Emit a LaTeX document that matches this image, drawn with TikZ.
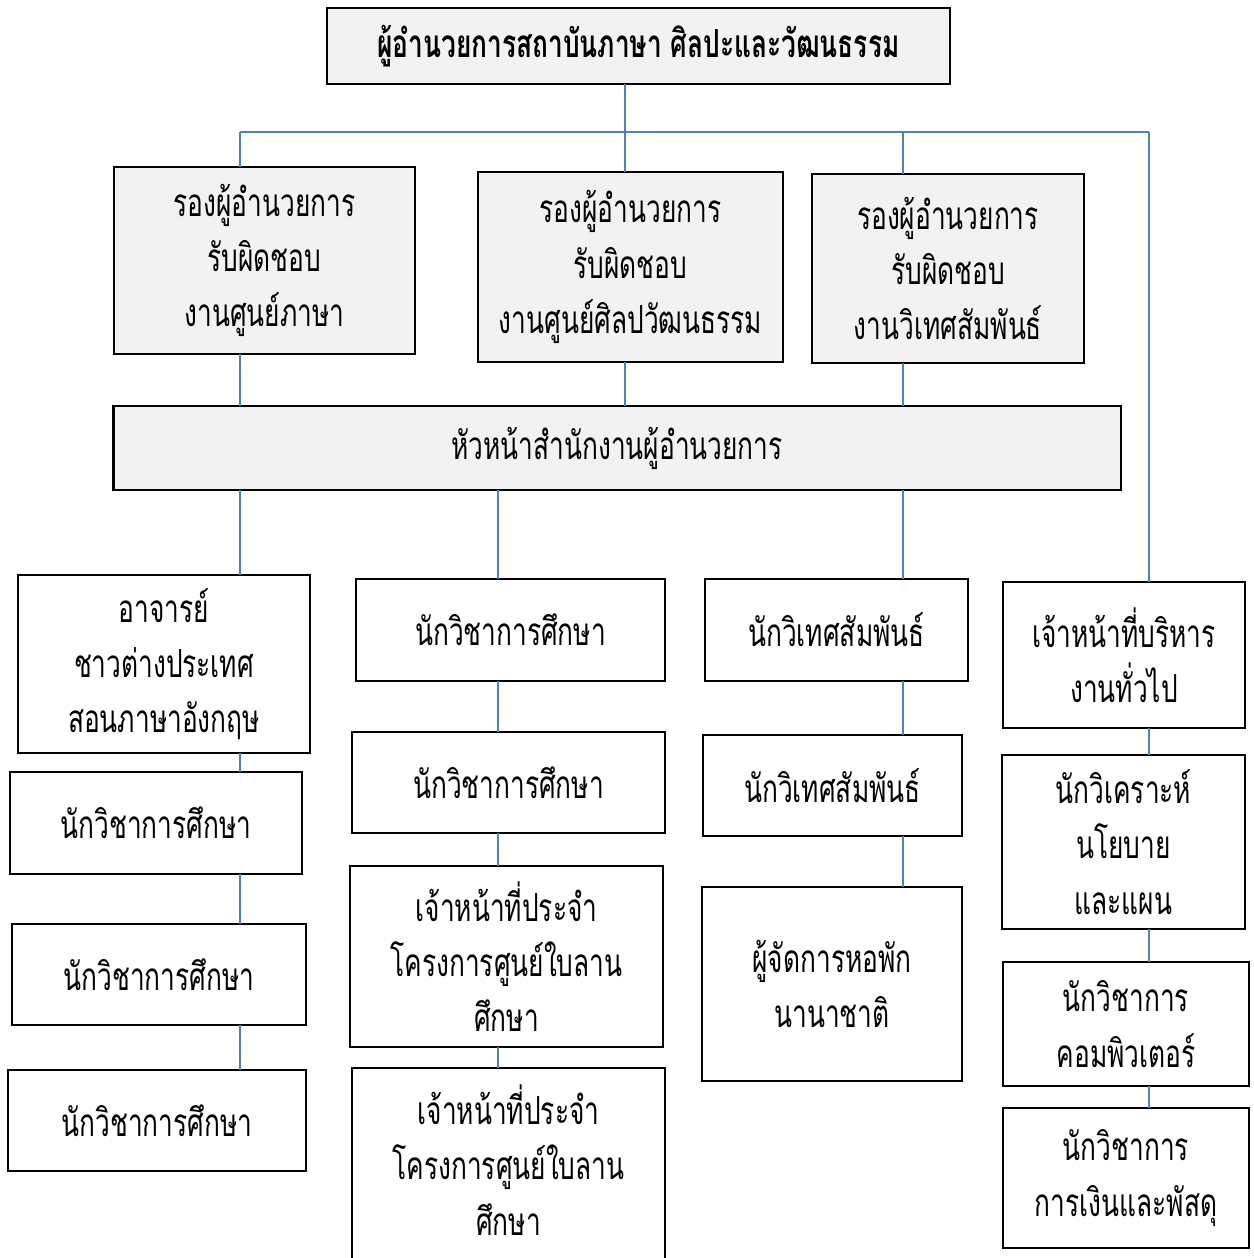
\documentclass[tikz,border=0pt]{standalone}
\usepackage{fontspec}
\newfontfamily\thaifont[Script=Thai,FakeStretch=0.68]{Loma}
\definecolor{linkblue}{HTML}{4F81BD}
\definecolor{boxgray}{HTML}{F2F2F2}
\tikzset{
  box/.style={draw=black, line width=1.6pt, inner sep=0pt, outer sep=0pt, align=center,
    font={\thaifont\fontsize{22}{31.5}\selectfont}},
  graybox/.style={box, fill=boxgray},
  conn/.style={draw=linkblue, line width=1.1pt},
}
\begin{document}
\begin{tikzpicture}[x=0.02cm, y=-0.02cm]
\useasboundingbox (0,0) rectangle (1254,1258);
\clip (0,0) rectangle (1254,1258);
% column x positions
\coordinate (j1) at (240,132);
\coordinate (j2) at (625,132);
\coordinate (j3) at (903,132);
\coordinate (j4) at (1149,132);
\coordinate (k2) at (498,0);

% top
\node[graybox, minimum width=12.46cm, minimum height=1.52cm, font={\thaifont\bfseries\fontsize{22}{31.5}\selectfont}] (top) at (638.5,46) {ผู้อำนวยการสถาบันภาษา ศิลปะและวัฒนธรรม};
% deputies
\node[graybox, minimum width=6.02cm, minimum height=3.74cm] (A) at (264.5,260.5) {รองผู้อำนวยการ\\รับผิดชอบ\\งานศูนย์ภาษา};
\node[graybox, minimum width=6.10cm, minimum height=3.80cm] (B) at (630.5,267) {รองผู้อำนวยการ\\รับผิดชอบ\\งานศูนย์ศิลปวัฒนธรรม};
\node[graybox, minimum width=5.44cm, minimum height=3.78cm] (C) at (948,268.5) {รองผู้อำนวยการ\\รับผิดชอบ\\งานวิเทศสัมพันธ์};
% head
\node[graybox, minimum width=20.16cm, minimum height=1.68cm] (head) at (617,448) {หัวหน้าสำนักงานผู้อำนวยการ};

% column 1
\node[box, minimum width=5.84cm, minimum height=3.56cm] (c1a) at (164,664) {อาจารย์\\ชาวต่างประเทศ\\สอนภาษาอังกฤษ};
\node[box, minimum width=5.84cm, minimum height=2.04cm] (c1b) at (156,823) {นักวิชาการศึกษา};
\node[box, minimum width=5.88cm, minimum height=2.02cm] (c1c) at (159,974.5) {นักวิชาการศึกษา};
\node[box, minimum width=5.96cm, minimum height=2.02cm] (c1d) at (157,1120.5) {นักวิชาการศึกษา};
% column 2
\node[box, minimum width=6.18cm, minimum height=2.04cm] (c2a) at (510.5,630) {นักวิชาการศึกษา};
\node[box, minimum width=6.26cm, minimum height=2.02cm] (c2b) at (508.5,782.5) {นักวิชาการศึกษา};
\node[box, minimum width=6.26cm, minimum height=3.62cm] (c2c) at (506.5,956.5) {เจ้าหน้าที่ประจำ\\โครงการศูนย์ใบลาน\\ศึกษา};
\node[box, minimum width=6.26cm, minimum height=4.40cm, anchor=north] (c2d) at (508.5,1068) {};
\node[box, draw=none, anchor=center] (c2dt) at (508.5,1160) {เจ้าหน้าที่ประจำ\\โครงการศูนย์ใบลาน\\ศึกษา};
% column 3
\node[box, minimum width=5.26cm, minimum height=2.04cm] (c3a) at (836.5,630) {นักวิเทศสัมพันธ์};
\node[box, minimum width=5.18cm, minimum height=2.02cm] (c3b) at (832.5,785.5) {นักวิเทศสัมพันธ์};
\node[box, minimum width=5.20cm, minimum height=3.88cm] (c3c) at (832,984) {ผู้จัดการหอพัก\\นานาชาติ};
% column 4
\node[box, minimum width=4.84cm, minimum height=2.92cm] (c4a) at (1124,655) {เจ้าหน้าที่บริหาร\\งานทั่วไป};
\node[box, minimum width=4.86cm, minimum height=3.48cm] (c4b) at (1123.5,842) {นักวิเคราะห์\\นโยบาย\\และแผน};
\node[box, minimum width=4.92cm, minimum height=2.48cm] (c4c) at (1126,1024) {นักวิชาการ\\คอมพิวเตอร์};
\node[box, minimum width=4.92cm, minimum height=2.80cm] (c4d) at (1126,1178) {นักวิชาการ\\การเงินและพัสดุ};

% connectors
\draw[conn] (top.south -| j2) -- (j2);
\draw[conn] (j1) -- (j4);
\draw[conn] (j1) -- (A.north -| j1);
\draw[conn] (j2) -- (B.north -| j2);
\draw[conn] (j3) -- (C.north -| j3);
\draw[conn] (j4) -- (c4a.north -| j4);
\draw[conn] (A.south -| j1) -- (head.north -| j1);
\draw[conn] (B.south -| j2) -- (head.north -| j2);
\draw[conn] (C.south -| j3) -- (head.north -| j3);
\draw[conn] (head.south -| j1) -- (c1a.north -| j1);
\draw[conn] (head.south -| k2) -- (c2a.north -| k2);
\draw[conn] (head.south -| j3) -- (c3a.north -| j3);
\draw[conn] (c1a.south -| j1) -- (c1b.north -| j1);
\draw[conn] (c1b.south -| j1) -- (c1c.north -| j1);
\draw[conn] (c1c.south -| j1) -- (c1d.north -| j1);
\draw[conn] (c2a.south -| k2) -- (c2b.north -| k2);
\draw[conn] (c2b.south -| k2) -- (c2c.north -| k2);
\draw[conn] (c2c.south -| k2) -- (c2d.north -| k2);
\draw[conn] (c3a.south -| j3) -- (c3b.north -| j3);
\draw[conn] (c3b.south -| j3) -- (c3c.north -| j3);
\draw[conn] (c4a.south -| j4) -- (c4b.north -| j4);
\draw[conn] (c4b.south -| j4) -- (c4c.north -| j4);
\draw[conn] (c4c.south -| j4) -- (c4d.north -| j4);
\end{tikzpicture}
\end{document}
